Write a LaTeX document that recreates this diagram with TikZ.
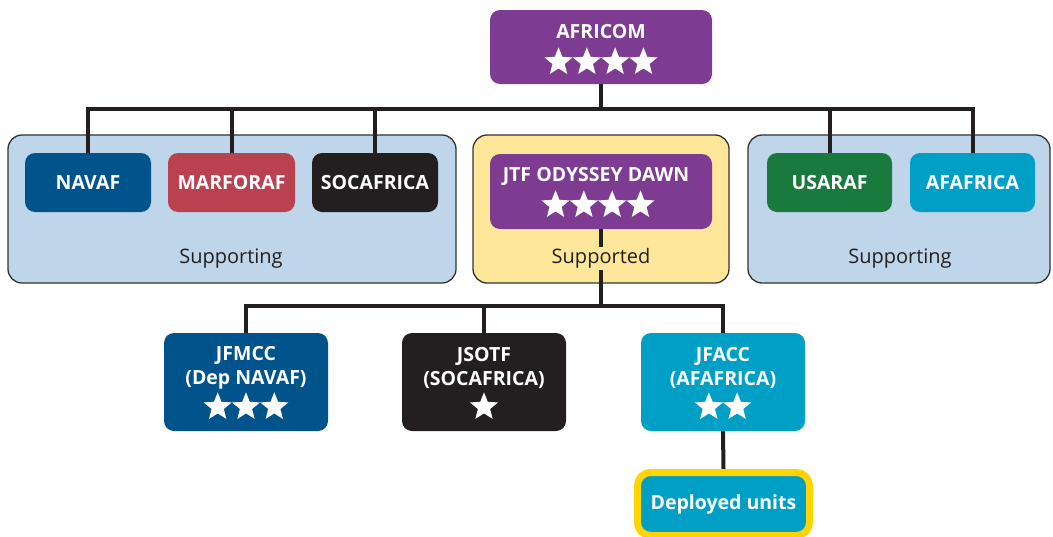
\documentclass[tikz,border=0pt]{standalone}
\usepackage{fontspec}
\setmainfont{Open Sans}
\usetikzlibrary{shapes.geometric}
\pgfdeclarelayer{grp}
\pgfdeclarelayer{lines}
\pgfsetlayers{grp,lines,main}
\definecolor{cpurple}{RGB}{125,60,146}
\definecolor{cnavy}{RGB}{0,83,139}
\definecolor{cred}{RGB}{185,65,80}
\definecolor{cblack}{RGB}{35,31,32}
\definecolor{cgreen}{RGB}{26,122,61}
\definecolor{cteal}{RGB}{0,160,198}
\definecolor{clblue}{RGB}{190,213,234}
\definecolor{cyfill}{RGB}{254,231,154}
\definecolor{cyborder}{RGB}{255,212,0}
\definecolor{cgray}{RGB}{50,50,50}
\tikzset{
  grpbox/.style={draw=cgray, line width=1.3pt, rounded corners=14pt},
  unitbox/.style={rounded corners=10pt, text=white, font=\fontsize{19.5}{24}\selectfont\bfseries, inner sep=0pt},
  utext/.style={text=white, font=\fontsize{19.5}{24}\selectfont\bfseries, inner sep=0pt},
  glabel/.style={text=cblack, font=\fontsize{20}{24}\selectfont, inner sep=1.5pt},
  conn/.style={draw=cblack, line width=4pt},
  wstar/.style={star, star points=5, star point ratio=2.3, fill=white, minimum size=29.5pt, inner sep=0pt}
}
\newcommand{\starrow}[4]{% name, x center, y center, count
  \foreach \i in {1,...,#4}{
    \node[wstar] (#1-\i) at ({#2+28.3*(\i-(#4+1)/2)},#3) {};
  }}
\begin{document}
\begin{tikzpicture}[x=1pt,y=-1pt]
\useasboundingbox (0,0) rectangle (1053,536);
% group boxes
\begin{pgfonlayer}{grp}
\node[grpbox, fill=clblue, minimum width=448pt, minimum height=148pt] (gleft) at (232,209) {};
\node[grpbox, fill=cyfill, minimum width=256pt, minimum height=148pt] (gmid) at (601,209) {};
\node[grpbox, fill=clblue, minimum width=302pt, minimum height=148pt] (gright) at (899,209) {};
\end{pgfonlayer}
% bus coordinates
\coordinate (bus) at (601,109);
\coordinate (bus2) at (601,306);
% boxes
\node[unitbox, fill=cpurple, minimum width=222pt, minimum height=74pt] (africom) at (601,47) {};
\node[utext] (africomtxt) at (601,32) {AFRICOM};
\starrow{africomstar}{601}{62}{4}
\node[unitbox, fill=cnavy, minimum width=126pt, minimum height=59pt] (navaf) at (88,182.5) {NAVAF};
\node[unitbox, fill=cred, minimum width=127pt, minimum height=59pt] (marforaf) at (231.5,182.5) {MARFORAF};
\node[unitbox, fill=cblack, minimum width=126pt, minimum height=59pt] (socafrica) at (375,182.5) {SOCAFRICA};
\node[unitbox, fill=cgreen, minimum width=125pt, minimum height=59pt] (usaraf) at (829.5,182.5) {USARAF};
\node[unitbox, fill=cteal, minimum width=125pt, minimum height=59pt] (afafrica) at (972.5,182.5) {AFAFRICA};
\node[unitbox, fill=cpurple, minimum width=222pt, minimum height=75pt] (jtf) at (601,191.5) {};
\node[utext] (jtftxt) at (596,176) {JTF ODYSSEY DAWN};
\starrow{jtfstar}{598}{205}{4}
\node[glabel] (lblleft) at (231,258.5) {Supporting};
\node[glabel, fill=cyfill] (lblmid) at (601,258.5) {Supported};
\node[glabel] (lblright) at (900,258.5) {Supporting};
\node[unitbox, fill=cnavy, minimum width=164pt, minimum height=98pt] (jfmcc) at (246,382) {};
\node[utext, align=center] (jfmcctxt) at (246,368) {JFMCC\\(Dep NAVAF)};
\starrow{jfmccstar}{246}{407}{3}
\node[unitbox, fill=cblack, minimum width=164pt, minimum height=98pt] (jsotf) at (484,382) {};
\node[utext, align=center] (jsotftxt) at (484,368) {JSOTF\\(SOCAFRICA)};
\starrow{jsotfstar}{484}{407}{1}
\node[unitbox, fill=cteal, minimum width=164pt, minimum height=98pt] (jfacc) at (723,382) {};
\node[utext, align=center] (jfacctxt) at (723,368) {JFACC\\(AFAFRICA)};
\starrow{jfaccstar}{723}{407}{2}
\node[unitbox, fill=cteal, draw=cyborder, line width=7pt, rounded corners=13pt, minimum width=172pt, minimum height=63pt] (deployed) at (723.5,504) {Deployed units};
% connectors
\begin{pgfonlayer}{lines}
\draw[conn] (africom.south) -- (bus);
\draw[conn] (navaf.north) |- (bus) -| (afafrica.north);
\draw[conn] (marforaf.north) -- (marforaf.north |- bus);
\draw[conn] (socafrica.north) -- (socafrica.north |- bus);
\draw[conn] (usaraf.north) -- (usaraf.north |- bus);
\draw[conn] (jtf.south) -- (bus2);
\draw[conn] (jfmcc.north) |- (bus2) -| (jfacc.north);
\draw[conn] (jsotf.north) -- (jsotf.north |- bus2);
\draw[conn] (jfacc.south) -- (deployed.north);
\end{pgfonlayer}
\end{tikzpicture}
\end{document}
